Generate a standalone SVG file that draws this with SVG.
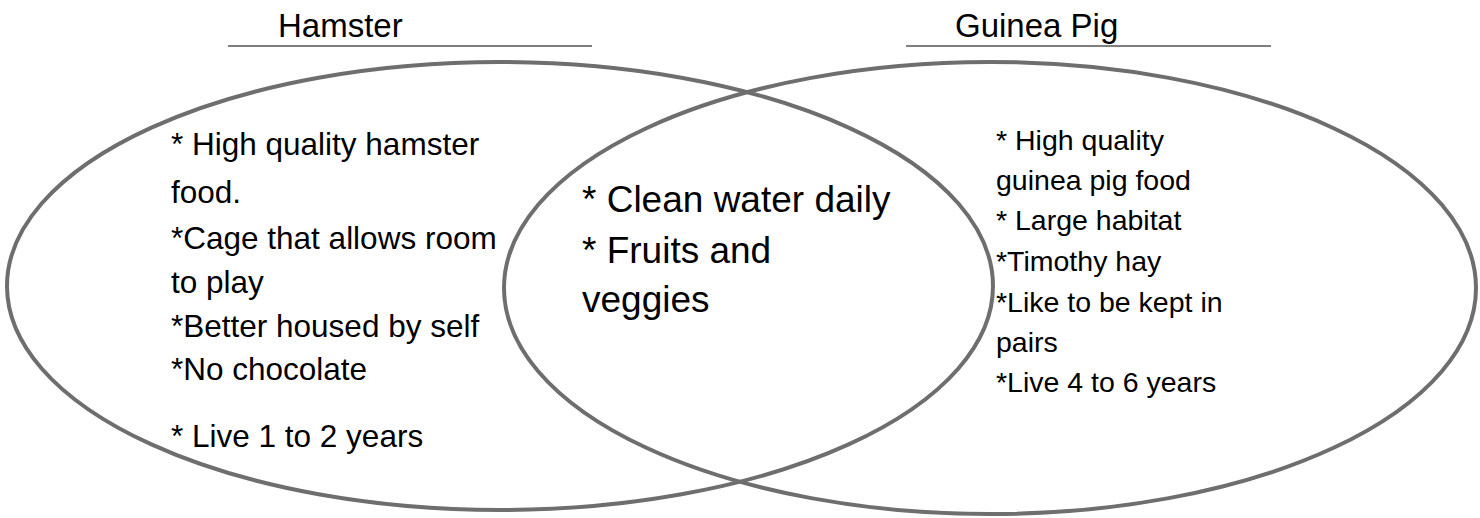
<svg xmlns="http://www.w3.org/2000/svg" width="1480" height="518" viewBox="0 0 1480 518">
<style>
.t{font-family:"Liberation Sans",Arial,sans-serif;fill:#000}
.title{font-size:33px}
.l{font-size:31.5px}
.c{font-size:37px}
.r{font-size:28.5px}
.ul{stroke:#555;stroke-width:1.5}
.ring{fill:none;stroke:#6e6e6e;stroke-width:4}
</style>
<rect width="1480" height="518" fill="#fff"/>
<g id="hamster">
<text class="t title" x="278" y="37">Hamster</text>
<line class="ul" x1="228" y1="46" x2="592" y2="46"/>
<ellipse class="ring" cx="500" cy="286" rx="493" ry="224"/>
<text class="t l" x="171" y="155">* High quality hamster</text>
<text class="t l" x="171" y="203">food.</text>
<text class="t l" x="171" y="249">*Cage that allows room</text>
<text class="t l" x="171" y="293">to play</text>
<text class="t l" x="171" y="337">*Better housed by self</text>
<text class="t l" x="171" y="380">*No chocolate</text>
<text class="t l" x="171" y="447">* Live 1 to 2 years</text>
</g>
<g id="guinea-pig">
<text class="t title" x="955" y="37">Guinea Pig</text>
<line class="ul" x1="906" y1="46" x2="1271" y2="46"/>
<ellipse class="ring" cx="990" cy="288" rx="486" ry="226"/>
<text class="t r" x="996" y="150">* High quality</text>
<text class="t r" x="996" y="190">guinea pig food</text>
<text class="t r" x="996" y="230">* Large habitat</text>
<text class="t r" x="996" y="271">*Timothy hay</text>
<text class="t r" x="996" y="312">*Like to be kept in</text>
<text class="t r" x="996" y="352">pairs</text>
<text class="t r" x="996" y="392">*Live 4 to 6 years</text>
</g>
<g id="both">
<text class="t c" x="582" y="212">* Clean water daily</text>
<text class="t c" x="582" y="263">* Fruits and</text>
<text class="t c" x="582" y="312">veggies</text>
</g>
<g id="connectors"></g>
</svg>
